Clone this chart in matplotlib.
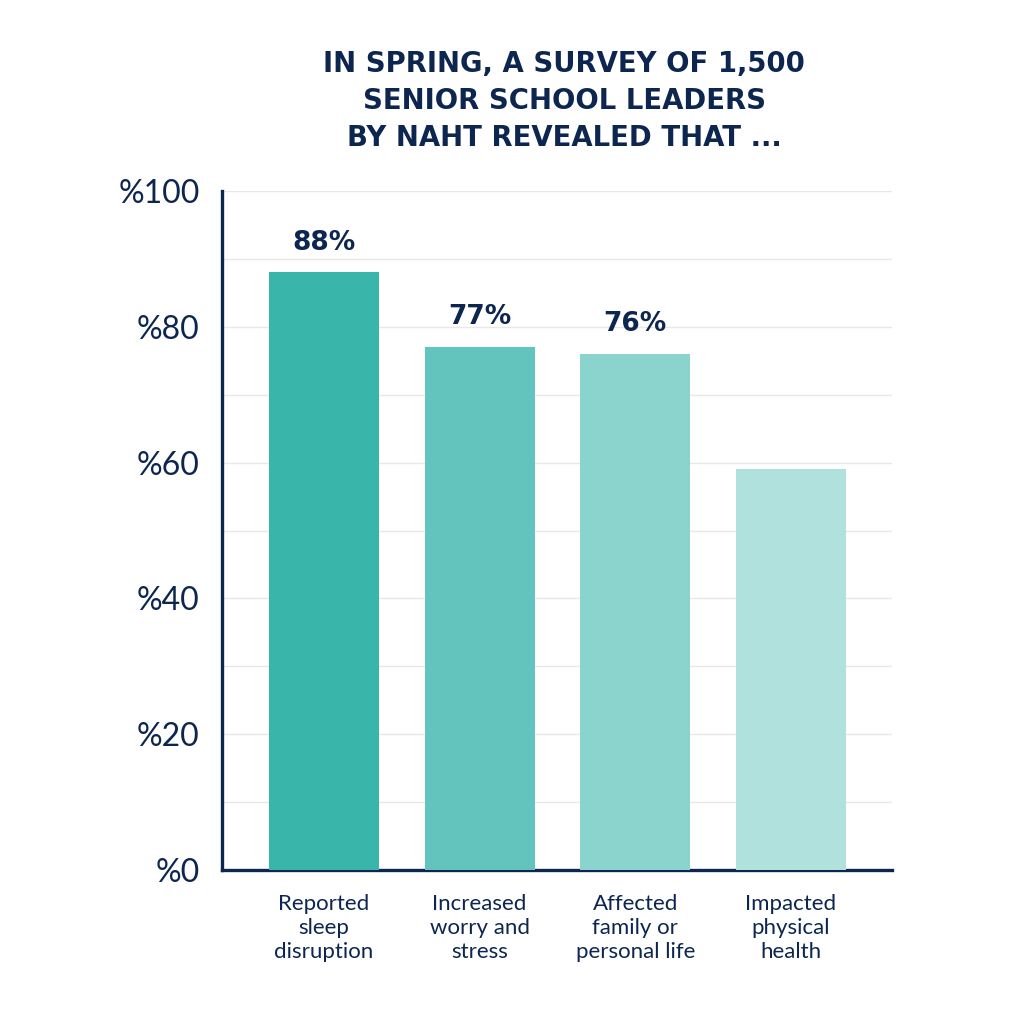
import matplotlib
matplotlib.use('Agg')
import matplotlib.pyplot as plt

kategori = ['Reported\nsleep\ndisruption', 'Increased\nworry and\nstress',
            'Affected\nfamily or\npersonal life', 'Impacted\nphysical\nhealth']
nilai = [88, 77, 76, 59]
label_nilai = ['88%', '77%', '76%', '']
warna = ['#3ab5aa', '#62c4bd', '#8bd3cd', '#b1e1dc']
yticks = [0, 20, 40, 60, 80, 100]
ytick_label = ['%0', '%20', '%40', '%60', '%80', '%100']
judul = 'IN SPRING, A SURVEY OF 1,500\nSENIOR SCHOOL LEADERS\nBY NAHT REVEALED THAT ...'

navy = '#0d2650'
plt.rcParams['font.family'] = ['Lato', 'DejaVu Sans']

fig = plt.figure(figsize=(10.17, 10.17), dpi=100)
ax = fig.add_axes([0.2183, 0.1445, 0.877 - 0.2183, 0.8122 - 0.1445])

x = range(len(nilai))
bars = ax.bar(x, nilai, width=0.707, color=warna, zorder=3)
for b, t in zip(bars, label_nilai):
    ax.text(b.get_x() + b.get_width() / 2, b.get_height() + 2.5, t,
            ha='center', va='bottom', fontsize=19, fontweight='bold',
            color=navy, family='DejaVu Sans')

ax.set_xlim(-0.656, 3.65)
ax.set_ylim(0, 100)
ax.set_yticks(yticks)
ax.set_yticklabels(ytick_label, fontsize=23, color=navy)
ax.set_yticks(range(0, 101, 10), minor=True)
ax.grid(axis='y', which='both', color='#e8e8e8', linewidth=1, zorder=0)
ax.tick_params(axis='y', which='both', length=0, pad=16)
ax.set_xticks(list(x))
ax.set_xticklabels(kategori, fontsize=16, color=navy, linespacing=1.25)
ax.tick_params(axis='x', length=0, pad=17)

for s in ['top', 'right']:
    ax.spines[s].set_visible(False)
for s in ['left', 'bottom']:
    ax.spines[s].set_color(navy)
    ax.spines[s].set_linewidth(2.4)

fig.text(0.555, 0.951, judul, ha='center', va='top', fontsize=19.8,
         fontweight='bold', color=navy, linespacing=1.42, family='DejaVu Sans')

fig.savefig('out.png', dpi=100)
